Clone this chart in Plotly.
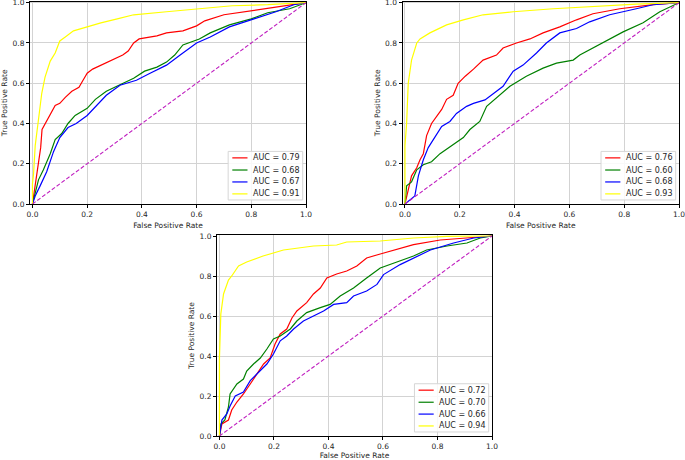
import plotly.graph_objects as go

# ---- data ----
# top-left panel
tl_red_fpr = [0, 0.004, 0.01, 0.02, 0.03, 0.035, 0.047, 0.065, 0.083, 0.1, 0.12, 0.144, 0.17, 0.187, 0.2, 0.22, 0.25, 0.3, 0.33, 0.35, 0.37, 0.39, 0.455, 0.49, 0.55, 0.6, 0.63, 0.7, 0.8, 0.89, 1.0]
tl_red_tpr = [0, 0.04, 0.09, 0.2, 0.28, 0.37, 0.4, 0.45, 0.49, 0.5, 0.53, 0.56, 0.58, 0.62, 0.65, 0.67, 0.69, 0.72, 0.74, 0.76, 0.8, 0.82, 0.835, 0.85, 0.86, 0.885, 0.91, 0.94, 0.96, 0.98, 1.0]
tl_green_fpr = [0, 0.01, 0.022, 0.04, 0.065, 0.083, 0.107, 0.13, 0.156, 0.2, 0.23, 0.27, 0.33, 0.37, 0.41, 0.455, 0.49, 0.52, 0.55, 0.61, 0.65, 0.72, 0.8, 0.86, 0.94, 1.0]
tl_green_tpr = [0, 0.055, 0.12, 0.17, 0.25, 0.32, 0.35, 0.4, 0.44, 0.475, 0.52, 0.56, 0.6, 0.625, 0.66, 0.68, 0.705, 0.74, 0.79, 0.82, 0.85, 0.89, 0.92, 0.95, 0.97, 1.0]
tl_blue_fpr = [0, 0.01, 0.028, 0.052, 0.077, 0.1, 0.13, 0.16, 0.2, 0.235, 0.27, 0.32, 0.38, 0.43, 0.49, 0.54, 0.6, 0.65, 0.72, 0.81, 0.89, 0.955, 1.0]
tl_blue_tpr = [0, 0.04, 0.09, 0.16, 0.26, 0.33, 0.38, 0.4, 0.44, 0.49, 0.54, 0.59, 0.615, 0.65, 0.69, 0.74, 0.8, 0.83, 0.88, 0.92, 0.955, 0.99, 1.0]
tl_yellow_fpr = [0, 0.0, 0.004, 0.01, 0.022, 0.034, 0.046, 0.065, 0.083, 0.1, 0.12, 0.15, 0.2, 0.25, 0.31, 0.37, 0.49, 0.61, 0.73, 0.86, 1.0]
tl_yellow_tpr = [0, 0.1, 0.15, 0.29, 0.42, 0.55, 0.63, 0.71, 0.75, 0.81, 0.83, 0.86, 0.88, 0.9, 0.92, 0.94, 0.955, 0.97, 0.985, 0.99, 1.0]
tl_auc = [0.79, 0.68, 0.67, 0.91]

# top-right panel
tr_red_fpr = [0, 0.012, 0.024, 0.043, 0.055, 0.067, 0.079, 0.097, 0.115, 0.134, 0.152, 0.176, 0.194, 0.22, 0.25, 0.285, 0.334, 0.358, 0.407, 0.456, 0.504, 0.565, 0.626, 0.686, 0.784, 0.905, 1.0]
tr_red_tpr = [0, 0.07, 0.14, 0.18, 0.22, 0.25, 0.34, 0.4, 0.435, 0.47, 0.52, 0.54, 0.6, 0.635, 0.67, 0.715, 0.74, 0.775, 0.8, 0.82, 0.85, 0.88, 0.915, 0.945, 0.97, 0.99, 1.0]
tr_green_fpr = [0, 0.006, 0.024, 0.043, 0.067, 0.097, 0.128, 0.176, 0.213, 0.237, 0.273, 0.298, 0.346, 0.383, 0.443, 0.504, 0.553, 0.614, 0.638, 0.723, 0.796, 0.869, 0.93, 1.0]
tr_green_tpr = [0, 0.09, 0.11, 0.17, 0.195, 0.21, 0.25, 0.295, 0.33, 0.37, 0.41, 0.485, 0.54, 0.585, 0.635, 0.675, 0.7, 0.715, 0.74, 0.8, 0.855, 0.9, 0.955, 1.0]
tr_blue_fpr = [0, 0.012, 0.036, 0.049, 0.067, 0.085, 0.109, 0.134, 0.164, 0.188, 0.225, 0.25, 0.292, 0.322, 0.358, 0.395, 0.431, 0.48, 0.516, 0.565, 0.626, 0.674, 0.747, 0.844, 0.905, 1.0]
tr_blue_tpr = [0, 0.013, 0.04, 0.14, 0.22, 0.28, 0.335, 0.385, 0.41, 0.45, 0.485, 0.5, 0.517, 0.55, 0.585, 0.66, 0.69, 0.75, 0.8, 0.85, 0.872, 0.905, 0.94, 0.97, 0.99, 1.0]
tr_yellow_fpr = [0, 0.0, 0.006, 0.012, 0.024, 0.043, 0.055, 0.091, 0.152, 0.213, 0.285, 0.395, 0.541, 0.662, 0.844, 1.0]
tr_yellow_tpr = [0, 0.29, 0.4, 0.6, 0.715, 0.8, 0.82, 0.85, 0.89, 0.915, 0.94, 0.955, 0.97, 0.98, 0.993, 1.0]
tr_auc = [0.76, 0.60, 0.68, 0.93]

# bottom panel
bm_red_fpr = [0, 0.009, 0.033, 0.045, 0.064, 0.088, 0.113, 0.137, 0.162, 0.186, 0.204, 0.223, 0.247, 0.266, 0.284, 0.32, 0.345, 0.37, 0.394, 0.43, 0.467, 0.504, 0.54, 0.59, 0.64, 0.712, 0.81, 0.896, 1.0]
bm_red_tpr = [0, 0.06, 0.08, 0.13, 0.17, 0.21, 0.26, 0.31, 0.36, 0.39, 0.46, 0.51, 0.535, 0.59, 0.625, 0.667, 0.71, 0.74, 0.79, 0.81, 0.825, 0.85, 0.89, 0.91, 0.93, 0.957, 0.98, 0.99, 1.0]
bm_green_fpr = [0, 0.005, 0.02, 0.033, 0.039, 0.064, 0.088, 0.1, 0.125, 0.15, 0.174, 0.198, 0.223, 0.26, 0.284, 0.32, 0.37, 0.406, 0.443, 0.492, 0.54, 0.59, 0.651, 0.712, 0.76, 0.835, 0.908, 0.957, 1.0]
bm_green_tpr = [0, 0.06, 0.08, 0.145, 0.21, 0.26, 0.285, 0.325, 0.36, 0.39, 0.435, 0.485, 0.5, 0.535, 0.575, 0.617, 0.642, 0.658, 0.7, 0.74, 0.79, 0.84, 0.87, 0.9, 0.93, 0.95, 0.965, 0.99, 1.0]
bm_blue_fpr = [0, 0.009, 0.027, 0.039, 0.058, 0.088, 0.113, 0.15, 0.174, 0.198, 0.223, 0.247, 0.272, 0.308, 0.345, 0.382, 0.419, 0.467, 0.492, 0.54, 0.578, 0.602, 0.663, 0.712, 0.774, 0.859, 0.933, 1.0]
bm_blue_tpr = [0, 0.08, 0.11, 0.15, 0.2, 0.22, 0.277, 0.325, 0.36, 0.41, 0.476, 0.5, 0.535, 0.575, 0.6, 0.625, 0.658, 0.667, 0.7, 0.725, 0.758, 0.807, 0.857, 0.89, 0.93, 0.965, 0.99, 1.0]
bm_yellow_fpr = [0, 0.0, 0.005, 0.015, 0.033, 0.045, 0.07, 0.1, 0.16, 0.235, 0.345, 0.43, 0.467, 0.59, 0.712, 0.835, 1.0]
bm_yellow_tpr = [0, 0.39, 0.61, 0.71, 0.78, 0.8, 0.85, 0.87, 0.9, 0.93, 0.95, 0.955, 0.97, 0.975, 0.99, 0.998, 1.0]
bm_auc = [0.72, 0.70, 0.66, 0.94]

chance = [0, 1]
colors = ["red", "green", "blue", "yellow"]
FONT = "DejaVu Sans"
TXT = "#262626"
FS = 7.5

panels = [
    ("", [(tl_red_fpr, tl_red_tpr), (tl_green_fpr, tl_green_tpr), (tl_blue_fpr, tl_blue_tpr), (tl_yellow_fpr, tl_yellow_tpr)], tl_auc,
     [30 / 685, 306 / 685], [1 - 204 / 460, 1 - 1.7 / 460]),
    ("2", [(tr_red_fpr, tr_red_tpr), (tr_green_fpr, tr_green_tpr), (tr_blue_fpr, tr_blue_tpr), (tr_yellow_fpr, tr_yellow_tpr)], tr_auc,
     [402.5 / 685, 679 / 685], [1 - 204 / 460, 1 - 1.7 / 460]),
    ("3", [(bm_red_fpr, bm_red_tpr), (bm_green_fpr, bm_green_tpr), (bm_blue_fpr, bm_blue_tpr), (bm_yellow_fpr, bm_yellow_tpr)], bm_auc,
     [217 / 685, 492 / 685], [1 - 436 / 460, 1 - 235 / 460]),
]

fig = go.Figure()
shapes = []
annots = []
layout_axes = {}

for suf, curves, aucs, xdom, ydom in panels:
    xa, ya = "x" + suf, "y" + suf
    for (fpr, tpr), c in zip(curves, colors):
        fig.add_trace(go.Scatter(x=fpr, y=tpr, mode="lines", xaxis=xa, yaxis=ya,
                                 line=dict(color=c, width=1.2), showlegend=False))
    fig.add_trace(go.Scatter(x=chance, y=chance, mode="lines", xaxis=xa, yaxis=ya,
                             line=dict(color="#c020c0", width=1.1, dash="4px,2px"), showlegend=False))

    common = dict(showline=True, mirror=True, linecolor="black", linewidth=1,
                  showgrid=True, gridcolor="#d3d3d3", gridwidth=1, zeroline=False,
                  ticks="outside", ticklen=3, tickcolor="black", tickwidth=1,
                  tickvals=[0, 0.2, 0.4, 0.6, 0.8, 1.0], tickformat=".1f",
                  ticklabeloverflow="allow",
                  tickfont=dict(size=FS, color=TXT, family=FONT), automargin=False)
    layout_axes["xaxis" + suf] = dict(common, domain=xdom, range=[-0.009, 1.0], anchor=ya,
                                      title=dict(text="False Positive Rate", standoff=4,
                                                 font=dict(size=FS, color=TXT, family=FONT)))
    layout_axes["yaxis" + suf] = dict(common, domain=ydom, range=[0, 1.005], anchor=xa,
                                      title=dict(text="True Positive Rate", standoff=3,
                                                 font=dict(size=FS, color=TXT, family=FONT)))

    # legend box, matplotlib style, lower right
    xr, yr = xa + " domain", ya + " domain"
    shapes.append(dict(type="rect", xref=xr, yref=yr, x0=0.718, x1=0.988, y0=0.02, y1=0.26,
                       line=dict(color="#d6d6d6", width=1), fillcolor="rgba(255,255,255,0.85)"))
    rows = [0.228, 0.168, 0.109, 0.05]
    for c, a, yy in zip(colors, aucs, rows):
        shapes.append(dict(type="line", xref=xr, yref=yr, x0=0.733, x1=0.788, y0=yy, y1=yy,
                           line=dict(color=c, width=1.2)))
        annots.append(dict(xref=xr, yref=yr, x=0.8, y=yy, xanchor="left", yanchor="middle",
                           text="AUC = %.2f" % a, showarrow=False,
                           font=dict(size=8, color=TXT, family=FONT)))

fig.update_layout(width=685, height=460, margin=dict(l=0, r=0, t=0, b=0),
                  paper_bgcolor="white", plot_bgcolor="white",
                  shapes=shapes, annotations=annots, **layout_axes)

# drop the page's default body margin so the figure sits at the window corner
fig.write_html("out.html", config={"displayModeBar": False},
               post_script="document.body.style.margin='0';")
